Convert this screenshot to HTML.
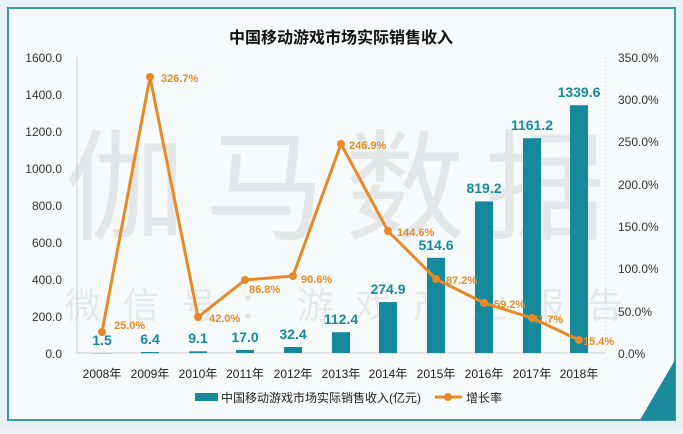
<!DOCTYPE html><html><head><meta charset="utf-8"><style>
body{margin:0;width:683px;height:429px;background:#eef4f6;overflow:hidden;font-family:"Liberation Sans","Noto Sans CJK SC",sans-serif}
</style></head><body>
<svg width="683" height="429" xmlns="http://www.w3.org/2000/svg" font-family="Liberation Sans, Noto Sans CJK SC, sans-serif">
<rect x="0" y="0" width="683" height="429" fill="#e8f1f4"/>
<rect x="8" y="8" width="667" height="412" fill="#f7fafb" stroke="#3a9aab" stroke-width="2"/>
<polygon points="675,360 675,420 640,420" fill="#1a8a9c"/>
<text x="341" y="43" text-anchor="middle" font-size="16" font-weight="bold" fill="#111">中国移动游戏市场实际销售收入</text>
<text x="345" y="230" text-anchor="middle" font-size="120" fill="#e4e7e8" letter-spacing="20">伽马数据</text>
<text x="355" y="318" text-anchor="middle" font-size="36" fill="#e6e9ea" letter-spacing="22">微信号：游戏产业报告</text>
<g font-size="12" fill="#333" text-anchor="end">
<text x="62" y="62">1600.0</text><text x="62" y="99">1400.0</text><text x="62" y="136">1200.0</text><text x="62" y="173">1000.0</text><text x="62" y="210">800.0</text><text x="62" y="247">600.0</text><text x="62" y="284">400.0</text><text x="62" y="321">200.0</text><text x="62" y="358">0.0</text>
</g>
<g font-size="12" fill="#333">
<text x="618" y="62">350.0%</text><text x="618" y="104">300.0%</text><text x="618" y="146">250.0%</text><text x="618" y="189">200.0%</text><text x="618" y="231">150.0%</text><text x="618" y="273">100.0%</text><text x="618" y="316">50.0%</text><text x="618" y="358">0.0%</text>
</g>
<line x1="77" y1="57" x2="77" y2="353" stroke="#ccc"/>
<line x1="606" y1="57" x2="606" y2="353" stroke="#ccc" stroke-dasharray="1,3"/>
<line x1="77" y1="353" x2="606" y2="353" stroke="#ccc"/>
<g fill="#168a9b">
<rect x="93" y="353" width="18" height="0.3"/><rect x="141" y="352" width="18" height="1.2"/><rect x="189" y="351.3" width="18" height="1.7"/><rect x="236" y="349.9" width="18" height="3.1"/><rect x="284" y="347" width="18" height="6"/><rect x="332" y="332.2" width="18" height="20.8"/><rect x="379" y="302.1" width="18" height="50.9"/><rect x="427" y="257.8" width="18" height="95.2"/><rect x="475" y="201.4" width="18" height="151.6"/><rect x="523" y="138.2" width="18" height="214.8"/><rect x="570" y="105.2" width="18" height="247.8"/>
</g>
<g font-size="14" font-weight="bold" fill="#168a9b" text-anchor="middle">
<text x="102" y="345">1.5</text><text x="150" y="344">6.4</text><text x="198" y="343">9.1</text><text x="245" y="342">17.0</text><text x="293" y="339">32.4</text><text x="341" y="324">112.4</text><text x="388" y="294">274.9</text><text x="436" y="250">514.6</text><text x="484" y="193">819.2</text><text x="532" y="130">1161.2</text><text x="579" y="97">1339.6</text>
</g>
<polyline points="102,332 150,77 198,317 245,280 293,276 341,144 388,231 436,279 484,303 532,318 579,340" fill="none" stroke="#e58a27" stroke-width="3"/>
<g fill="#e58a27">
<circle cx="102" cy="332" r="4"/><circle cx="150" cy="77" r="4"/><circle cx="198" cy="317" r="4"/><circle cx="245" cy="280" r="4"/><circle cx="293" cy="276" r="4"/><circle cx="341" cy="144" r="4"/><circle cx="388" cy="231" r="4"/><circle cx="436" cy="279" r="4"/><circle cx="484" cy="303" r="4"/><circle cx="532" cy="318" r="4"/><circle cx="579" cy="340" r="4"/>
</g>
<g font-size="11" font-weight="bold" fill="#e58a27">
<text x="114" y="329">25.0%</text><text x="161" y="82">326.7%</text><text x="209" y="322">42.0%</text><text x="249" y="293">86.8%</text><text x="301" y="283">90.6%</text><text x="349" y="149">246.9%</text><text x="397" y="236">144.6%</text><text x="446" y="284">87.2%</text><text x="494" y="308">59.2%</text><text x="532" y="323">41.7%</text><text x="583" y="345">15.4%</text>
</g>
<g font-size="12" fill="#222" text-anchor="middle">
<text x="102" y="378">2008年</text><text x="150" y="378">2009年</text><text x="198" y="378">2010年</text><text x="245" y="378">2011年</text><text x="293" y="378">2012年</text><text x="341" y="378">2013年</text><text x="388" y="378">2014年</text><text x="436" y="378">2015年</text><text x="484" y="378">2016年</text><text x="532" y="378">2017年</text><text x="579" y="378">2018年</text>
</g>
<rect x="195" y="393" width="23" height="8" fill="#168a9b"/>
<text x="221" y="402" font-size="12" fill="#222">中国移动游戏市场实际销售收入(亿元)</text>
<line x1="435" y1="397" x2="462" y2="397" stroke="#e58a27" stroke-width="3"/>
<circle cx="448" cy="397" r="4" fill="#e58a27"/>
<text x="466" y="402" font-size="12" fill="#222">增长率</text>
</svg>
</body></html>
